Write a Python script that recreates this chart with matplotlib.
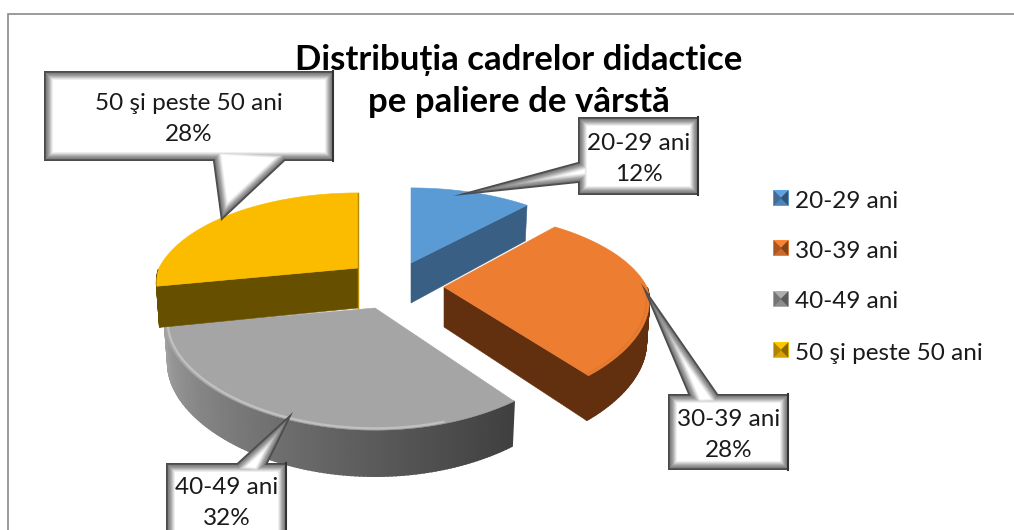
import matplotlib
matplotlib.use('Agg')
import matplotlib.pyplot as plt
from matplotlib.patches import Polygon, Rectangle
import numpy as np

plt.rcParams['font.family'] = ['Lato', 'DejaVu Sans']

# Chart data
title = 'Distribuția cadrelor didactice\npe paliere de vârstă'
categories = ['20-29 ani', '30-39 ani', '40-49 ani', '50 şi peste 50 ani']
percents = [12, 28, 32, 28]

# Slice colours: top face, side face
top_colors = ['#5b9bd5', '#ed7d31', '#a5a5a5', '#fbbc00']
side_colors = ['#3a5f84', '#62300f', '#6e6e6e', '#665000']

# Layout in pixels (axes run 0..1014 and 530..0)
apexes = [(411, 263), (444, 287), (375, 308), (358, 268)]
radii = [199, 203, 208, 199]
turns = [0, -3, 0, 0]  # small turn in degrees, the exploded slices lean a little
boxes = [(578, 117, 699, 195), (668, 394, 789, 470), (166, 463, 287, 545), (44, 71, 334, 161)]
tails = [((578, 162), (578, 183), (453, 196)),
         ((688, 394), (718, 394), (641, 283)),
         ((237, 463), (268, 463), (293, 412)),
         ((213, 161), (285, 161), (221, 221))]
legend_y = [201, 251, 302, 353]
bevel = ['#4a4a4a', '#555555', '#808080', '#8e8e8e', '#9c9c9c',
         '#b0b0b0', '#c6c6c6', '#dcdcdc', '#efefef', '#ffffff']

# Perspective of the pie plane
K, P_BACK, P_FRONT, P_Y = 93, 0.2386, 0.15, 0.2386


def project(theta, apex, radius, grow=1.0):
    u, v = np.sin(theta), np.cos(theta)
    sx = 1 / (1 + (P_BACK if v > 0 else P_FRONT) * v)
    sy = 1 / (1 + P_Y * v)
    return apex[0] + grow * radius * u * sx, apex[1] - grow * K * v * sy


def depth(theta):
    return 40 - 6 * np.cos(theta)


def lower(pt, apex, theta):
    # same rim point on the bottom plane, a bit narrower because of the perspective
    return apex[0] + (pt[0] - apex[0]) * 0.985, pt[1] + depth(theta)


def shade(color, f):
    rgb = np.array(matplotlib.colors.to_rgb(color))
    return tuple(np.clip(rgb * f, 0, 1))


def add_poly(ax, pts, color, z, lw=0.4):
    ax.add_patch(Polygon(pts, closed=True, facecolor=color, edgecolor=color, lw=lw, zorder=z))


def draw_callout(ax, box, tail, z):
    x0, y0, x1, y1 = box
    a, b, t = [np.array(p, dtype=float) for p in tail]
    # push the tail base inside the box so that inset layers stay joined to it
    a = a + (a - t) / np.linalg.norm(a - t) * 16
    b = b + (b - t) / np.linalg.norm(b - t) * 16
    la, lb, lt = np.linalg.norm(b - t), np.linalg.norm(a - t), np.linalg.norm(a - b)
    inc = (la * a + lb * b + lt * t) / (la + lb + lt)
    ab, at = b - a, t - a
    area = abs(ab[0] * at[1] - ab[1] * at[0]) / 2
    r = 2 * area / (la + lb + lt)
    for i, c in enumerate(bevel):
        ax.add_patch(Rectangle((x0 + i, y0 + i), x1 - x0 - 2 * i, y1 - y0 - 2 * i,
                               facecolor=c, edgecolor='none', zorder=z + i * 0.01))
        if r > i:
            f = (r - i) / r
            pts = [inc + (p - inc) * f for p in (a, b, t)]
            ax.add_patch(Polygon(pts, closed=True, facecolor=c, edgecolor='none', zorder=z + i * 0.01))
    ax.plot([x1 - 1, x1 - 1], [y0, y1], color='#333333', lw=1.5, zorder=z + 0.2)


def draw_legend_key(ax, x, y, color):
    s = 16
    x0, y0, x1, y1 = x, y - s / 2, x + s, y + s / 2
    cx, cy = x + s / 2, y
    ax.add_patch(Rectangle((x0, y0), s, s, facecolor=shade(color, 1.1), edgecolor='none', zorder=8))
    add_poly(ax, [(x0 + 1, y0 + 1), (x1 - 1, y0 + 1), (cx, cy)], shade(color, 1.05), 8.1)
    add_poly(ax, [(x0 + 1, y1 - 1), (x1 - 1, y1 - 1), (cx, cy)], shade(color, 0.85), 8.1)
    add_poly(ax, [(x0 + 1, y0 + 1), (x0 + 1, y1 - 1), (cx, cy)], shade(color, 0.7), 8.2)
    add_poly(ax, [(x1 - 1, y0 + 1), (x1 - 1, y1 - 1), (cx, cy)], shade(color, 0.55), 8.2)


fig = plt.figure(figsize=(10.14, 5.30), dpi=100)
ax = fig.add_axes([0, 0, 1, 1])
ax.set_xlim(0, 1014)
ax.set_ylim(530, 0)
ax.axis('off')

# chart frame, right and bottom sides run off the picture
ax.add_patch(Rectangle((8, 14), 1100, 600, facecolor='white', edgecolor='#8a8a8a', lw=1.2, zorder=0))

ax.text(519, 81, title, ha='center', va='center', fontsize=25, fontweight='bold',
        color='black', linespacing=1.41, zorder=1)

# slice angles, clockwise from twelve o'clock
edges = np.radians(np.concatenate([[0], np.cumsum(percents)]) * 3.6)

# back to front: yellow, blue, orange, gray
for idx in [3, 0, 1, 2]:
    start, stop = edges[idx] + np.radians(turns[idx]), edges[idx + 1] + np.radians(turns[idx])
    apex = apexes[idx]
    radius = radii[idx]
    th = np.linspace(start, stop, 120)
    arc = np.array([project(t, apex, radius) for t in th])

    # cut faces that look towards the viewer
    for ang in (start, stop):
        is_visible = (idx == 0 and ang == stop) or (idx == 1 and ang == stop) or (idx == 3 and ang == start)
        if is_visible:
            p = project(ang, apex, radius)
            add_poly(ax, [apex, p, lower(p, apex, ang), (apex[0], apex[1] + 40)], side_colors[idx], 2 + idx)

    # outer wall, only where it faces front
    wall = th[(th > np.pi / 2) & (th < 3 * np.pi / 2)]
    for j in range(len(wall) - 1):
        t0, t1 = wall[j], wall[j + 1]
        p0, p1 = project(t0, apex, radius), project(t1, apex, radius)
        if idx == 2:
            f = (t0 - wall[0]) / (wall[-1] - wall[0])
            col = str(0.25 + 0.38 * f ** 1.1)
        else:
            col = side_colors[idx]
        add_poly(ax, [p0, p1, lower(p1, apex, t1), lower(p0, apex, t0)], col, 2 + idx, lw=1.2)

    # top face
    add_poly(ax, [apex] + [tuple(p) for p in arc], top_colors[idx], 2.5 + idx)

    # soft rim along the arc
    if idx == 2:
        rim = np.array([project(t, apex, radius, 0.985) for t in wall[20:]])
        ax.plot(rim[:, 0], rim[:, 1], color='#c6c6c6', lw=1.6, alpha=0.85, zorder=2.6 + idx)
    elif idx == 1:
        rim = np.array([project(t, apex, radius, 0.985) for t in wall])
        ax.plot(rim[:, 0], rim[:, 1], color='#c96a2a', lw=1.4, alpha=0.25, zorder=2.6 + idx)
    elif idx == 3:
        ax.plot([apex[0], arc[-1, 0]], [apex[1] + 40, arc[-1, 1]], color='#b88c00', lw=1, zorder=2.6 + idx)

# callouts with category name and share
for i in range(len(categories)):
    draw_callout(ax, boxes[i], tails[i], 7)
    x0, y0, x1, y1 = boxes[i]
    cy = (y0 + y1) / 2 + 3 if i != 2 else 503
    ax.text((x0 + x1) / 2, cy, f'{categories[i]}\n{percents[i]}%', ha='center', va='center',
            fontsize=17.5, color='#1a1a1a', linespacing=1.58, zorder=9)

# legend
for i in range(len(categories)):
    draw_legend_key(ax, 773, legend_y[i] - 3, top_colors[i])
    ax.text(795, legend_y[i], categories[i], ha='left', va='center', fontsize=17.5, color='#1a1a1a', zorder=9)

fig.savefig('out.png', dpi=100)
